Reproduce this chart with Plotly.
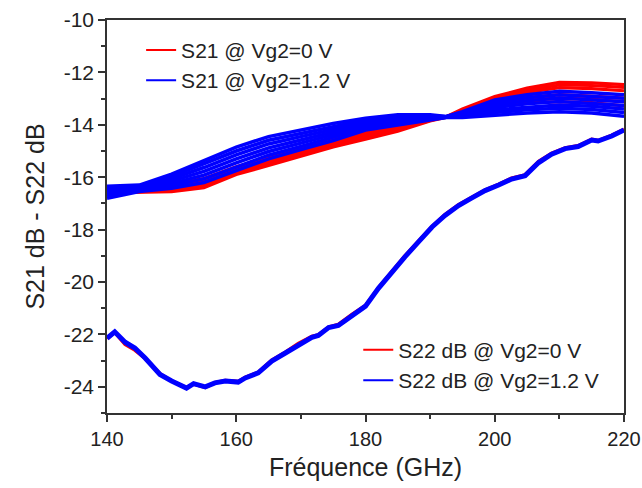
import plotly.graph_objects as go

# ---------------- data ----------------
freq_s21 = [140, 145, 150, 155, 160, 165, 170, 175, 180, 185, 190, 192.5, 195, 200, 205, 210, 215, 220]

s21_vg0 = [
    [-16.45, -16.45, -16.25, -16.05, -15.60, -15.25, -14.90, -14.55, -14.20, -13.92, -13.75, -13.69, -13.40, -12.92, -12.60, -12.38, -12.40, -12.47],
    [-16.48, -16.48, -16.31, -16.12, -15.66, -15.31, -14.96, -14.61, -14.27, -13.98, -13.77, -13.69, -13.44, -12.98, -12.68, -12.48, -12.50, -12.57],
    [-16.51, -16.50, -16.37, -16.19, -15.72, -15.37, -15.02, -14.67, -14.34, -14.05, -13.79, -13.70, -13.48, -13.04, -12.76, -12.58, -12.62, -12.70],
    [-16.54, -16.53, -16.43, -16.26, -15.78, -15.43, -15.08, -14.73, -14.41, -14.11, -13.81, -13.70, -13.52, -13.14, -12.95, -12.85, -12.90, -12.98],
    [-16.57, -16.55, -16.49, -16.33, -15.84, -15.49, -15.14, -14.79, -14.48, -14.18, -13.83, -13.70, -13.56, -13.22, -13.05, -12.98, -13.02, -13.12],
    [-16.60, -16.58, -16.55, -16.40, -15.90, -15.55, -15.20, -14.85, -14.55, -14.24, -13.85, -13.71, -13.60, -13.30, -13.15, -13.12, -13.15, -13.28],
]

s21_vg12 = [
    [-16.35, -16.30, -15.88, -15.35, -14.85, -14.45, -14.20, -13.95, -13.75, -13.62, -13.62, -13.68, -13.50, -13.05, -12.85, -12.72, -12.78, -12.85],
    [-16.42, -16.34, -15.97, -15.49, -15.00, -14.59, -14.33, -14.06, -13.82, -13.68, -13.65, -13.69, -13.54, -13.15, -12.97, -12.85, -12.91, -12.99],
    [-16.50, -16.38, -16.06, -15.63, -15.15, -14.73, -14.45, -14.17, -13.90, -13.75, -13.68, -13.69, -13.57, -13.24, -13.08, -12.98, -13.04, -13.12],
    [-16.57, -16.42, -16.15, -15.78, -15.30, -14.88, -14.58, -14.28, -13.97, -13.81, -13.71, -13.70, -13.61, -13.34, -13.20, -13.11, -13.17, -13.26],
    [-16.65, -16.47, -16.24, -15.92, -15.45, -15.02, -14.70, -14.38, -14.05, -13.87, -13.74, -13.71, -13.65, -13.43, -13.32, -13.24, -13.29, -13.40],
    [-16.72, -16.51, -16.33, -16.06, -15.60, -15.16, -14.83, -14.49, -14.12, -13.94, -13.77, -13.71, -13.68, -13.53, -13.43, -13.37, -13.42, -13.53],
    [-16.80, -16.55, -16.42, -16.20, -15.75, -15.30, -14.95, -14.60, -14.20, -14.00, -13.80, -13.72, -13.72, -13.62, -13.55, -13.50, -13.55, -13.67],
]

freq_s22 = [140.0, 141.2, 142.8, 144.3, 145.9, 148.2, 150.0, 152.3, 153.4, 155.2, 156.7, 158.3,
            160.3, 161.4, 163.4, 165.5, 167.6, 169.6, 171.7, 172.7, 174.3, 175.8, 177.9, 180.0,
            182.0, 184.1, 186.1, 188.2, 190.3, 192.3, 194.4, 196.4, 198.5, 200.6, 202.6, 204.7,
            206.8, 208.8, 210.9, 212.9, 215.0, 216.0, 218.1, 220.0]

s22_vg0 = [-22.15, -21.92, -22.38, -22.60, -22.92, -23.50, -23.78, -24.03, -23.90, -24.02, -23.84, -23.76,
           -23.80, -23.64, -23.45, -22.98, -22.68, -22.35, -22.08, -22.02, -21.72, -21.62, -21.24, -20.90,
           -20.22, -19.58, -19.00, -18.44, -17.88, -17.43, -17.05, -16.78, -16.49, -16.27, -16.04, -15.91,
           -15.40, -15.09, -14.88, -14.80, -14.55, -14.60, -14.40, -14.17]

s22_vg12 = [-22.15, -21.90, -22.30, -22.52, -22.90, -23.53, -23.78, -24.05, -23.88, -24.00, -23.85, -23.78,
            -23.82, -23.66, -23.47, -23.02, -22.71, -22.39, -22.11, -22.04, -21.74, -21.66, -21.26, -20.92,
            -20.24, -19.61, -19.04, -18.47, -17.90, -17.46, -17.08, -16.80, -16.51, -16.30, -16.07, -15.94,
            -15.44, -15.12, -14.91, -14.83, -14.58, -14.62, -14.43, -14.20]

x_ticks = [140, 160, 180, 200, 220]
y_ticks = [-24, -22, -20, -18, -16, -14, -12, -10]
y_tick_labels = ["-24", "-22", "-20", "-18", "-16", "-14", "-12", "-10"]

RED = "#ff0000"
BLUE = "#0000ff"
FONT = "Liberation Sans, Arial, sans-serif"
TXT = "#222222"

fig = go.Figure()

# S22 (red then blue on top)
fig.add_trace(go.Scatter(x=freq_s22, y=s22_vg0, mode="lines", line=dict(color=RED, width=3.5),
                         showlegend=False))
fig.add_trace(go.Scatter(x=freq_s22, y=s22_vg12, mode="lines", line=dict(color=BLUE, width=5),
                         showlegend=False))

# S21 families
for ys in s21_vg0:
    fig.add_trace(go.Scatter(x=freq_s21, y=ys, mode="lines", line=dict(color=RED, width=3.2),
                             showlegend=False))
for ys in s21_vg12:
    fig.add_trace(go.Scatter(x=freq_s21, y=ys, mode="lines", line=dict(color=BLUE, width=3.5),
                             showlegend=False))

# legend entries (thin sample lines as in the original)
fig.add_trace(go.Scatter(x=[None], y=[None], mode="lines", line=dict(color=RED, width=2),
                         name="S21 @ Vg2=0 V", legend="legend"))
fig.add_trace(go.Scatter(x=[None], y=[None], mode="lines", line=dict(color=BLUE, width=2),
                         name="S21 @ Vg2=1.2 V", legend="legend"))
fig.add_trace(go.Scatter(x=[None], y=[None], mode="lines", line=dict(color=RED, width=2),
                         name="S22 dB @ Vg2=0 V", legend="legend2"))
fig.add_trace(go.Scatter(x=[None], y=[None], mode="lines", line=dict(color=BLUE, width=2),
                         name="S22 dB @ Vg2=1.2 V", legend="legend2"))

fig.update_layout(
    width=642, height=488,
    margin=dict(l=107, r=18, t=20, b=75),
    paper_bgcolor="white", plot_bgcolor="white",
    font=dict(family=FONT, size=20, color=TXT),
    legend=dict(x=0.066, y=0.975, xanchor="left", yanchor="top", bgcolor="rgba(0,0,0,0)",
                font=dict(size=21, family=FONT, color=TXT), tracegroupgap=0),
    legend2=dict(x=0.486, y=0.212, xanchor="left", yanchor="top", bgcolor="rgba(0,0,0,0)",
                 font=dict(size=21, family=FONT, color=TXT), tracegroupgap=0),
    showlegend=True,
)

fig.update_xaxes(range=[140, 220], tickvals=x_ticks, ticks="outside", ticklen=7, tickwidth=1.5,
                 tickcolor="#333", automargin=False,
                 showline=True, linecolor="#333", linewidth=1.5, mirror=True, showgrid=False, zeroline=False,
                 tickfont=dict(size=20, family=FONT, color=TXT),
                 minor=dict(tickvals=[150, 170, 190, 210], ticks="outside", ticklen=4, tickwidth=1.5, tickcolor="#333"),
                 title=dict(text="Fréquence (GHz)", font=dict(size=25, family=FONT, color=TXT), standoff=10))
fig.update_yaxes(range=[-25, -10], tickvals=y_ticks, ticktext=y_tick_labels, ticks="outside", ticklen=7,
                 tickwidth=1.5, tickcolor="#333", automargin=False,
                 showline=True, linecolor="#333", linewidth=1.5, mirror=True, showgrid=False, zeroline=False,
                 tickfont=dict(size=21, family=FONT, color=TXT),
                 minor=dict(tickvals=[-25, -23, -21, -19, -17, -15, -13, -11], ticks="outside", ticklen=4,
                            tickwidth=1.5, tickcolor="#333"),
                 title=dict(text="S21 dB - S22 dB", font=dict(size=25, family=FONT, color=TXT), standoff=12))

# remove the browser's default body margin so the 642x488 figure fills the window exactly
fig.write_html("out.html", config={"displayModeBar": False},
               post_script="document.body.style.margin='0';document.body.style.overflow='hidden';")
